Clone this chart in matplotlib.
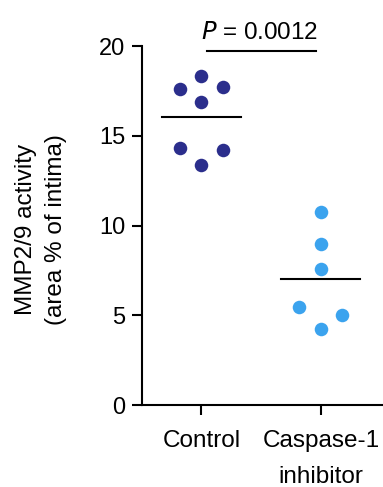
import matplotlib
matplotlib.use('Agg')
import matplotlib.pyplot as plt
import numpy as np

plt.rcParams['font.family'] = ['Liberation Sans', 'DejaVu Sans']

# data
groups = ['Control', 'Caspase-1\ninhibitor']
control_x = [-0.18, 0.0, 0.18, 0.0, -0.18, 0.18, 0.0]
control_y = [17.6, 18.33, 17.7, 16.9, 14.33, 14.21, 13.35]
casp_x = [1.0, 1.0, 1.0, 0.82, 1.18, 1.0]
casp_y = [10.77, 8.95, 7.58, 5.44, 5.01, 4.27]
means = [16.06, 7.0]
p_text = '$\\it{P}$ = 0.0012'

fig = plt.figure(figsize=(3.83, 4.87), dpi=100)
ax = fig.add_axes([0.370, 0.168, 0.630, 0.7375])

ax.scatter(control_x, control_y, s=95, color='#2b2e8c', zorder=3, linewidths=0)
ax.scatter(np.array(casp_x), casp_y, s=95, color='#3ba3ee', zorder=3, linewidths=0)

for i, m in enumerate(means):
    ax.plot([i - 0.33, i + 0.33], [m, m], color='black', lw=1.5)

# significance bar
ax.plot([0.05, 0.96], [19.72, 19.72], color='black', lw=1.5, clip_on=False)
ax.text(0.49, 20.12, p_text, ha='center', va='bottom', fontsize=17.5)

ax.set_xlim(-0.5, 1.52)
ax.set_ylim(0, 20)
ax.set_yticks([0, 5, 10, 15, 20])
ax.set_xticks([0, 1])
ax.set_xticklabels(groups, fontsize=17.5, linespacing=1.8)
ax.tick_params(axis='y', labelsize=17, length=7, width=1.5, direction='out', pad=5)
ax.tick_params(axis='x', length=7, width=1.5, direction='out', pad=11)
for s in ['top', 'right']:
    ax.spines[s].set_visible(False)
for s in ['left', 'bottom']:
    ax.spines[s].set_linewidth(1.5)

ax.set_ylabel('MMP2/9 activity\n(area % of intima)', fontsize=17.5,
              linespacing=1.45, va='center')
ax.yaxis.set_label_coords(-0.418, 0.49)

fig.savefig('out.png', dpi=100)
